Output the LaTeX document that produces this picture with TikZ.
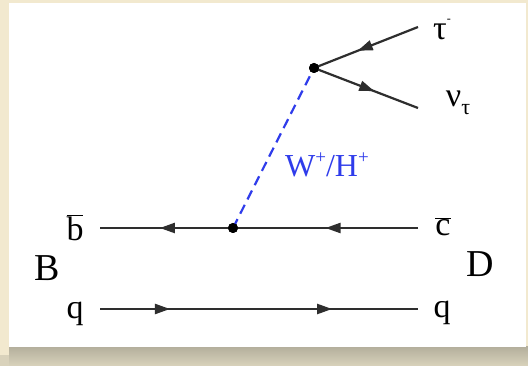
\documentclass[tikz,border=0pt]{standalone}
\usepackage{fontspec}
\setmainfont{Liberation Serif}
\usetikzlibrary{decorations.markings,arrows.meta}
\definecolor{beige}{HTML}{F2E9CF}
\definecolor{shadowc}{HTML}{C8C3AE}
\definecolor{lineg}{HTML}{2E2E2E}
\definecolor{wblue}{HTML}{2F3CEB}
\begin{document}
\begin{tikzpicture}[x=1pt,y=-1pt,
  fermion/.style={draw=lineg,line width=2.2pt,postaction={decorate},
    decoration={markings,mark=at position #1 with {\arrow[lineg]{Triangle[length=15pt,width=10pt]}}}},
  fermion/.default=0.5,
  boson/.style={draw=wblue,line width=2.2pt,dash pattern=on 10pt off 6pt},
  lbl/.style={inner sep=0pt,font=\fontsize{34}{36}\selectfont},
  vtx/.style={circle,fill=black,inner sep=0pt,minimum size=10pt}]
\useasboundingbox (0,0) rectangle (528,366);
\fill[beige] (0,0) rectangle (528,366);
\shade[top color=shadowc!90!black,bottom color=shadowc!60!beige] (9,347) rectangle (528,366);
\fill[shadowc!60!beige] (0,355) rectangle (9,366);
\fill[white] (9,3) rectangle (526,347);
% vertices and endpoints
\node[vtx] (v1) at (314,68) {};
\node[vtx] (v2) at (233,228) {};
\coordinate (taue) at (418,27);
\coordinate (nue) at (418,108);
\coordinate (bl) at (100,228);
\coordinate (cr) at (418,228);
\coordinate (ql) at (100,309);
\coordinate (qr) at (418,309);
% lines
\draw[fermion=0.58] (taue) -- (v1.center);
\draw[fermion=0.58] (v1.center) -- (nue);
\draw[fermion=0.55] (v2.center) -- (bl);
\draw[fermion=0.5] (cr) -- (v2.center);
\draw[fermion=0.22] (ql) -- (qr);
\draw[fermion=0.73] (ql) -- (qr);
\draw[boson] (v2.center) -- (v1.center);
\node[vtx] at (v1) {};
\node[vtx] at (v2) {};
% labels
\node[lbl] (ltau) at (442,30) {τ\raisebox{0.5em}{\fontsize{12}{12}\selectfont -}};
\node[lbl] (lnu) at (458,103) {ν\raisebox{-0.25em}{\fontsize{22}{22}\selectfont τ}};
\node[lbl,text=wblue,font=\fontsize{32}{34}\selectfont] (lw) at (327,165) {W\raisebox{0.42em}{\fontsize{19}{19}\selectfont +}/H\raisebox{0.42em}{\fontsize{19}{19}\selectfont +}};
\node[lbl] (lb) at (75,228) {\ensuremath{\overline{\mbox{b}}}};
\node[lbl] (lc) at (443,227) {\ensuremath{\overline{\mbox{c}}}};
\node[lbl,font=\fontsize{38}{40}\selectfont] (lB) at (47,268) {B};
\node[lbl,font=\fontsize{38}{40}\selectfont] (lD) at (480,264) {D};
\node[lbl] (lq1) at (75,314) {q};
\node[lbl] (lq2) at (442,313) {q};
\end{tikzpicture}
\end{document}
